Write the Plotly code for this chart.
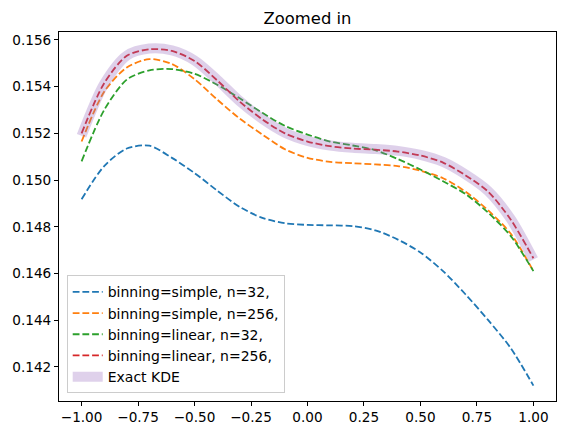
import plotly.graph_objects as go

x_vals = [-1.0, -0.9, -0.8, -0.7, -0.6, -0.5, -0.4, -0.3, -0.2, -0.1, 0.0,
          0.1, 0.2, 0.3, 0.4, 0.5, 0.6, 0.7, 0.8, 0.9, 1.0]

simple_32 = [0.14918, 0.15060, 0.15135, 0.15147, 0.15095, 0.15030, 0.14955, 0.14885,
             0.14838, 0.14815, 0.14808, 0.14806, 0.14803, 0.14785, 0.14745, 0.14690,
             0.14610, 0.14510, 0.14400, 0.14280, 0.14120]
simple_256 = [0.15165, 0.15378, 0.15482, 0.15518, 0.15497, 0.15432, 0.15345, 0.15263,
              0.15195, 0.15132, 0.15095, 0.15078, 0.15072, 0.15067, 0.15060, 0.15040,
              0.15008, 0.14950, 0.14870, 0.14770, 0.14610]
linear_32 = [0.15080, 0.15300, 0.15430, 0.15470, 0.15475, 0.15455, 0.15408, 0.15350,
             0.15288, 0.15232, 0.15195, 0.15165, 0.15148, 0.15128, 0.15090, 0.15045,
             0.14995, 0.14940, 0.14860, 0.14760, 0.14610]
linear_256 = [0.15200, 0.15415, 0.15532, 0.15560, 0.15553, 0.15510, 0.15427, 0.15336,
              0.15260, 0.15200, 0.15165, 0.15145, 0.15135, 0.15130, 0.15122, 0.15105,
              0.15075, 0.15020, 0.14950, 0.14830, 0.14665]
exact_kde = [0.15190, 0.15412, 0.15533, 0.15563, 0.15555, 0.15512, 0.15430, 0.15338,
             0.15262, 0.15203, 0.15168, 0.15148, 0.15138, 0.15133, 0.15125, 0.15108,
             0.15078, 0.15024, 0.14953, 0.14833, 0.14660]

series = [
    ("binning=simple, n=32,", simple_32, "#1f77b4"),
    ("binning=simple, n=256,", simple_256, "#ff7f0e"),
    ("binning=linear, n=32,", linear_32, "#2ca02c"),
    ("binning=linear, n=256,", linear_256, "#d62728"),
]

x_ticks = [-1.0, -0.75, -0.5, -0.25, 0.0, 0.25, 0.5, 0.75, 1.0]
y_ticks = [0.142, 0.144, 0.146, 0.148, 0.150, 0.152, 0.154, 0.156]


def fmt(v, d):
    s = f"{v:.{d}f}"
    return s.replace("-", "\u2212")


fig = go.Figure()
for name, ys, col in series:
    fig.add_trace(go.Scatter(
        x=x_vals, y=ys, mode="lines", name=name,
        line=dict(color=col, width=1.8, dash="6.8px,2.9px", shape="spline", smoothing=0.8),
    ))
fig.add_trace(go.Scatter(
    x=x_vals, y=exact_kde, mode="lines", name="Exact KDE",
    line=dict(color="#9467bd", width=10, shape="spline", smoothing=0.8),
    opacity=0.3,
))

axis_common = dict(
    showline=True, linecolor="black", linewidth=1, mirror=True,
    ticks="outside", ticklen=4, tickwidth=1, tickcolor="black",
    showgrid=False, zeroline=False,
    tickfont=dict(family="DejaVu Sans", size=13.6, color="black"),
)

fig.update_layout(
    width=565, height=435,
    margin=dict(l=59, r=9, t=32, b=34),
    paper_bgcolor="white", plot_bgcolor="white",
    font=dict(family="DejaVu Sans", color="black"),
    title=dict(text="Zoomed in", x=0.5, xanchor="center", xref="paper",
               y=1 - 18 / 435, yanchor="middle", yref="container",
               font=dict(family="DejaVu Sans", size=16.4, color="black")),
    xaxis=dict(range=[-1.1, 1.1], tickvals=x_ticks,
               ticktext=[fmt(v, 2) for v in x_ticks], **axis_common),
    yaxis=dict(range=[0.14054, 0.15634], tickvals=y_ticks,
               ticktext=[fmt(v, 3) for v in y_ticks], **axis_common),
    legend=dict(x=0.0155, y=0.021, xanchor="left", yanchor="bottom",
                bgcolor="rgba(255,255,255,0.8)", bordercolor="#cccccc", borderwidth=1,
                font=dict(family="DejaVu Sans", size=14, color="black"),
                tracegroupgap=0, itemwidth=30),
    showlegend=True,
)

fig.write_html("out.html")
